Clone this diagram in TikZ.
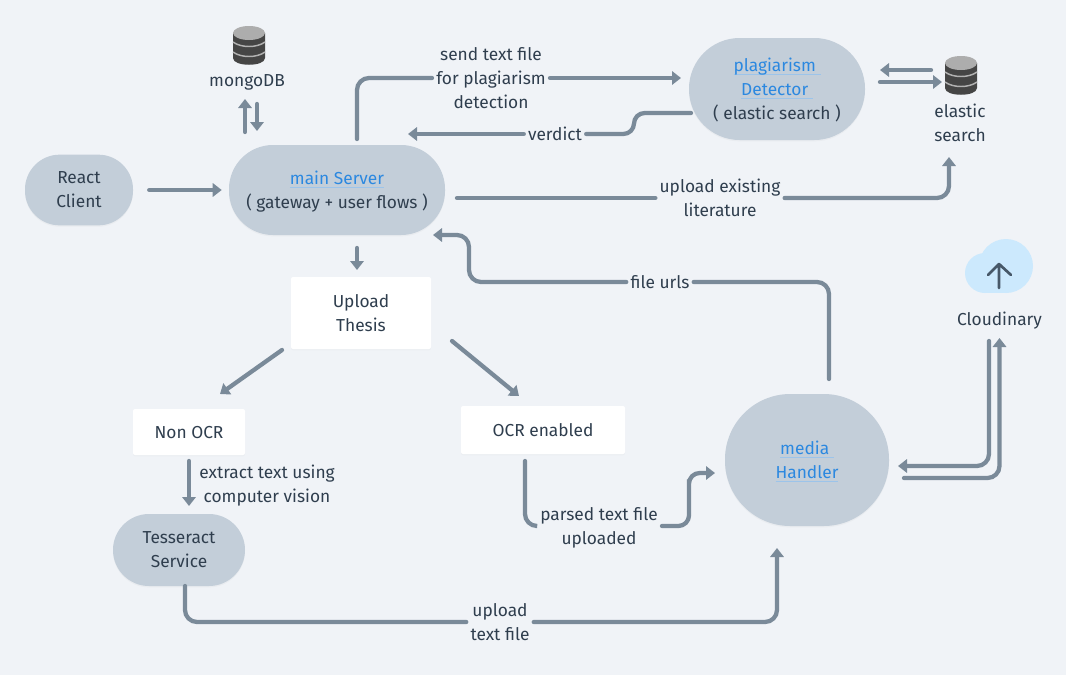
\documentclass[tikz,border=0pt]{standalone}
\usepackage{fontspec}
\setmainfont{Fira Sans}
\usetikzlibrary{arrows.meta,shadows}

\definecolor{pagebg}{HTML}{F0F3F7}
\definecolor{srvfill}{HTML}{C3CED9}
\definecolor{wirecol}{HTML}{7A8A99}
\definecolor{textcol}{HTML}{2F3E4E}
\definecolor{linkcol}{HTML}{2B88E0}
\definecolor{linkbar}{HTML}{9CC4EA}
\definecolor{cloudcol}{HTML}{CCE9FD}

\newcommand{\linktext}[1]{\leavevmode\setbox0\hbox{#1}\rlap{\color{linkbar}\rule[-2.4pt]{\wd0}{0.9pt}}{\color{linkcol}\box0}}

\tikzset{
    srv/.style = {fill = srvfill, align = center, text depth = 0pt, drop shadow = {shadow xshift = 0pt, shadow yshift = -1pt, opacity = 0.06}},
    card/.style = {fill = white, align = center, text depth = 0pt, rounded corners = 1.5pt, drop shadow = {shadow xshift = 0pt, shadow yshift = -1pt, opacity = 0.04}},
    lbl/.style = {align = center, text depth = 0pt, inner xsep = 3pt, inner ysep = 0pt},
    wire/.style = {draw = wirecol, line width = 3.2pt, line cap = round, rounded corners = 9pt},
    flow/.style = {wire, -{Triangle[length = 6.75pt, width = 10pt]}},
    dbicon/.pic = {
        \fill[black!73] (-16,-12) -- (-16,13) .. controls (-16,22) and (16,22) .. (16,13) -- (16,-12) -- cycle;
        \draw[black!30, line width = 1.1pt] (-16,-3) .. controls (-8,3) and (8,3) .. (16,-3);
        \draw[black!30, line width = 1.1pt] (-16,7) .. controls (-8,13) and (8,13) .. (16,7);
        \fill[black!32] (0,-12) ellipse (16 and 7);
    }
}

\begin{document}
\begin{tikzpicture}[x = 0.75pt, y = -0.75pt, font = \fontsize{13}{18}\selectfont, text = textcol]
    \useasboundingbox (0,0) rectangle (1066,675);
    \fill[pagebg] (0,0) rectangle (1066,675);

    % servers
    \node[srv, minimum width = 81pt, minimum height = 53pt, rounded corners = 26pt] (client) at (79,190) {React\\Client};
    \node[srv, minimum width = 162pt, minimum height = 67.5pt, rounded corners = 33pt] (main) at (337,190) {\linktext{main Server}\\( gateway + user flows )};
    \node[srv, minimum width = 132pt, minimum height = 76.5pt, rounded corners = 38pt] (plag) at (777,89) {\linktext{plagiarism\ }\\\linktext{Detector\ }\\( elastic search )};
    \node[srv, minimum width = 123pt, minimum height = 99pt, rounded corners = 49pt] (media) at (807,460) {\linktext{media\ }\\\linktext{Handler}};
    \node[srv, minimum width = 99pt, minimum height = 54pt, rounded corners = 27pt] (tess) at (179,550) {Tesseract\\Service};

    % white boxes
    \node[card, minimum width = 105pt, minimum height = 54pt] (upload) at (361,313) {Upload\\Thesis};
    \node[card, minimum width = 84pt, minimum height = 34.5pt] (nonocr) at (189,432) {Non OCR};
    \node[card, minimum width = 123pt, minimum height = 36pt] (ocr) at (543,430) {OCR enabled};

    % stores
    \pic at (249,45) {dbicon};
    \pic at (961,75) {dbicon};
    \node[lbl] (mongo) at (247,81) {mongoDB};
    \node[lbl] (elastic) at (960,123) {elastic\\search};

    % cloud
    \fill[cloudcol] (1006,266) circle (27);
    \fill[cloudcol] (985,273) circle (20);
    \fill[cloudcol] (985,273) rectangle (1006,293);
    \draw[textcol!85!cloudcol, line width = 2pt, line cap = round, line join = round] (999,288) -- (999,264) (988,275) -- (999,264) -- (1011,275);
    \node[lbl] (cloudy) at (999.5,319) {Cloudinary};

    % connector labels
    \node[lbl] (sendlbl) at (491,78) {send text file\\for plagiarism\\detection};
    \node[lbl] (verdictlbl) at (555,134) {verdict};
    \node[lbl] (existlbl) at (720,198) {upload existing\\literature};
    \node[lbl] (urlslbl) at (660,282) {file urls};
    \node[lbl] (extractlbl) at (267,484) {extract text using\\computer vision};
    \node[lbl] (parsedlbl) at (599,526) {parsed text file\\uploaded};
    \node[lbl] (textlbl) at (500,622) {upload\\text file};

    % connectors
    \draw[flow, shorten <= 12pt, shorten >= 5.25pt] (client) -- (main);
    \draw[flow] ([shift = {(-92,-58)}]main.center) -- ([shift = {(-2,18)}]mongo.center);
    \draw[flow] ([shift = {(10,23)}]mongo.center) -- ([shift = {(-80,-59)}]main.center);

    \draw[wire] ([shift = {(20,-51)}]main.center) |- (sendlbl.west);
    \draw[flow] (sendlbl.east) -- ([shift = {(-96,-11)}]plag.center);
    \draw[wire, rounded corners = 8pt] ([shift = {(-86,24)}]plag.center) -- ++(-57,0) |- (verdictlbl.east);
    \draw[flow] (verdictlbl.west) -- ([shift = {(71,-56)}]main.center);

    \draw[wire] ([shift = {(120,8)}]main.center) -- (existlbl.west);
    \draw[flow] (existlbl.east) -| ([shift = {(-11,34)}]elastic.center);

    \draw[flow] ([shift = {(-29,-53)}]elastic.center) -- ([shift = {(103,-19)}]plag.center);
    \draw[flow] ([shift = {(103,-7)}]plag.center) -- ([shift = {(-18,-41)}]elastic.center);

    \draw[flow] ([shift = {(20,58)}]main.center) -- ([shift = {(-4,-43)}]upload.center);
    \draw[flow] ([shift = {(-79,37)}]upload.center) -- ([shift = {(31,-38)}]nonocr.center);
    \draw[flow] ([shift = {(91,28)}]upload.center) -- ([shift = {(-24,-34)}]ocr.center);
    \draw[flow] ([shift = {(0,29)}]nonocr.center) -- ([shift = {(10,-44)}]tess.center);

    \draw[wire] ([shift = {(-18,31)}]ocr.center) |- (parsedlbl.west);
    \draw[flow, rounded corners = 8pt] (parsedlbl.east) -| ([shift = {(-118,30)}]media.center) |- ([shift = {(-92,13)}]media.center);

    \draw[wire] ([shift = {(6,36)}]tess.center) |- (textlbl.west);
    \draw[flow] (textlbl.east) -| ([shift = {(-30,88)}]media.center);

    \draw[wire] ([shift = {(22,-81)}]media.center) |- (urlslbl.east);
    \draw[flow] (urlslbl.west) -| ([shift = {(132,45)}]main.center) -- ([shift = {(96,45)}]main.center);

    \draw[flow] ([shift = {(-10.5,22)}]cloudy.center) |- ([shift = {(91,6)}]media.center);
    \draw[flow] ([shift = {(97,18)}]media.center) -| ([shift = {(0,19)}]cloudy.center);
\end{tikzpicture}
\end{document}
